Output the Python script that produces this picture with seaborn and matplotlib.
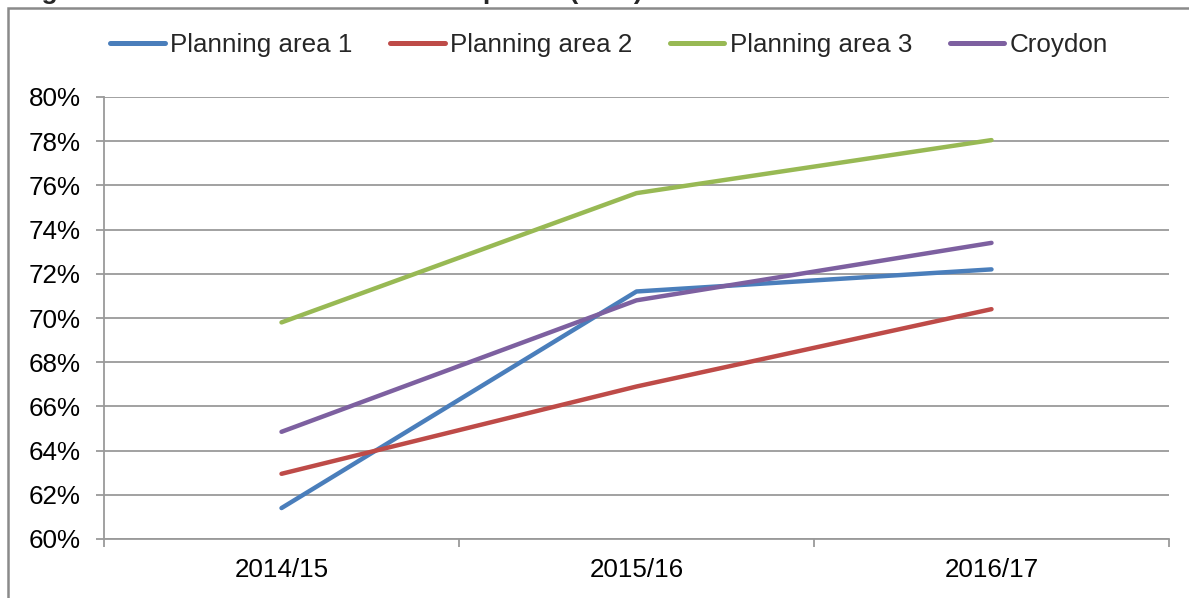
import matplotlib
matplotlib.use("Agg")
import matplotlib.pyplot as plt
import seaborn as sns
import pandas as pd
from matplotlib.patches import Rectangle
from matplotlib.ticker import FixedLocator

years = ["2014/15", "2015/16", "2016/17"]
series_names = ["Planning area 1", "Planning area 2", "Planning area 3", "Croydon"]
area1 = [61.4, 71.2, 72.2]
area2 = [62.95, 66.9, 70.4]
area3 = [69.8, 75.65, 78.05]
croydon = [64.85, 70.8, 73.4]
colors = ["#4A7EBB", "#BE4B48", "#98B954", "#7D60A0"]
y_ticks = [60, 62, 64, 66, 68, 70, 72, 74, 76, 78, 80]
title_text = "Figure 6: EYFS Good Level of Development (GLD)"

rows = []
for name, vals in zip(series_names, [area1, area2, area3, croydon]):
    for yr, v in zip(years, vals):
        rows.append({"Year": yr, "Value": v, "Series": name})
df = pd.DataFrame(rows)

sns.set_theme(style="white")
plt.rcParams["font.family"] = ["Liberation Sans", "DejaVu Sans"]

W, H = 1189, 598
fig = plt.figure(figsize=(W / 100, H / 100), dpi=100)
ax = fig.add_axes([104 / W, 1 - 539 / H, (1169 - 104) / W, (539 - 97) / H])

sns.lineplot(data=df, x="Year", y="Value", hue="Series", hue_order=series_names,
             palette=colors, linewidth=3.2, ax=ax, sort=False, legend=True)

ax.set_xlim(-0.5, 2.5)
ax.set_ylim(60, 80)
ax.set_yticks(y_ticks)
ax.set_yticklabels([f"{t}%" for t in y_ticks])
ax.set_xticks(range(len(years)))
ax.set_xticklabels(years)
ax.xaxis.set_minor_locator(FixedLocator([-0.5, 0.5, 1.5, 2.5]))
ax.set_xlabel("")
ax.set_ylabel("")

grid_c = "#9A9A9A"
ax.yaxis.grid(True, color=grid_c, linewidth=1.3)
ax.xaxis.grid(False)
ax.set_axisbelow(True)
for s in ["top", "right"]:
    ax.spines[s].set_visible(False)
for s in ["left", "bottom"]:
    ax.spines[s].set_color(grid_c)
    ax.spines[s].set_linewidth(1.3)

ax.tick_params(axis="y", which="major", length=6, width=1.3, color=grid_c,
               labelsize=18.7, pad=11, labelcolor="black", left=True)
ax.tick_params(axis="x", which="major", length=0, labelsize=18.7, pad=14, labelcolor="black")
ax.tick_params(axis="x", which="minor", length=6, width=1.3, color=grid_c, bottom=True)

handles, labels = ax.get_legend_handles_labels()
ax.get_legend().remove()
leg = fig.legend(handles, labels, loc="center", ncol=4, bbox_to_anchor=(609 / W, 1 - 45 / H),
                 frameon=False, fontsize=18.7, handlelength=2.1, handletextpad=0.2,
                 columnspacing=1.45, borderaxespad=0)
for lh in leg.get_lines():
    lh.set_linewidth(3.6)

fig.patches.append(Rectangle((8 / W, -0.1), 1.2, 1 - 8 / H + 0.1, transform=fig.transFigure,
                             fill=False, edgecolor="#8A8A8A", linewidth=1.8))
fig.text(18 / W, 1 + 1.0 / H, title_text, fontsize=19, fontweight="bold",
         va="baseline", ha="left")

fig.savefig("out.png", dpi=100)
